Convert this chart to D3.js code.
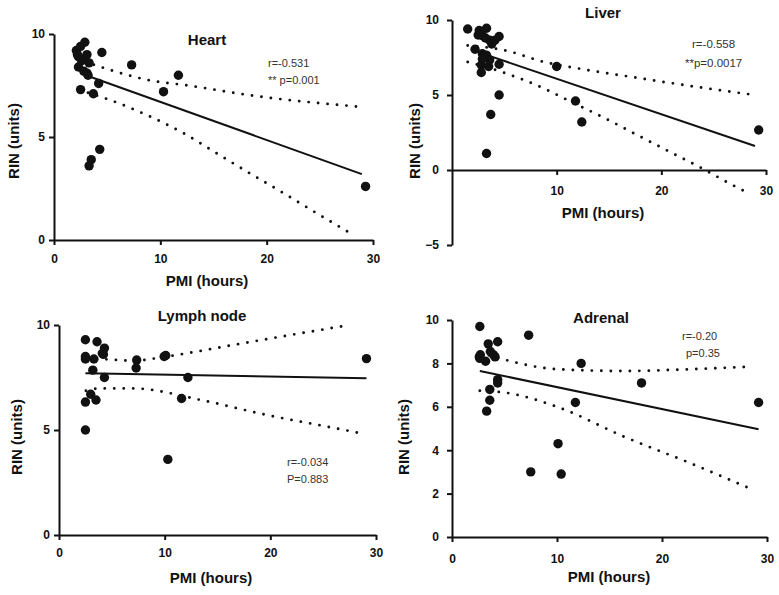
<!DOCTYPE html>
<html>
<head>
<meta charset="utf-8">
<script src="https://cdn.jsdelivr.net/npm/d3@7"></script>
<style>
  body { margin: 0; background: #fff; }
  svg text { font-family: "Liberation Sans", Arial, sans-serif; }
</style>
</head>
<body>
<svg id="vis-rin" width="779" height="595"></svg>
<script>

// ---- data (PMI in hours, RIN in units) ----

const heartPMI = [2.1, 2.5, 2.9, 2.3, 3.1, 3.3, 2.3, 2.8, 3.1, 3.2, 4.5, 7.3, 11.7, 10.3, 4.2, 2.5, 3.7, 4.3, 3.5, 3.3, 29.3, 2.6, 2.2];
const heartRIN = [9.2, 9.4, 9.6, 8.9, 9.0, 8.6, 8.4, 8.2, 8.1, 8.0, 9.1, 8.5, 8.0, 7.2, 7.6, 7.3, 7.1, 4.4, 3.9, 3.6, 2.6, 8.7, 9.0];
const heartFit = [[3.2, 7.96], [28.95, 3.2]];
const heartUpper = [[2.9, 8.66], [5, 8.3], [9, 7.75], [12.6, 7.5], [18.8, 7.0], [28.7, 6.47]];
const heartLower = [[3.2, 7.15], [4.8, 6.88], [9.0, 6.0], [12.2, 5.18], [15.3, 4.21], [18.4, 3.24], [21.6, 2.27], [24.7, 1.3], [28.3, 0.2]];

const liverPMI = [1.5, 2.6, 3.3, 2.9, 3.2, 3.6, 4.1, 4.5, 2.2, 2.9, 3.3, 3.6, 2.8, 2.8, 3.5, 4.5, 4.5, 3.7, 3.3, 10.0, 11.8, 12.4, 29.3, 3.8, 2.5, 2.9];
const liverRIN = [9.4, 9.3, 9.45, 8.95, 8.8, 8.65, 8.65, 8.9, 8.05, 7.75, 7.65, 7.33, 7.0, 6.5, 6.9, 7.05, 5.0, 3.7, 1.1, 6.9, 4.6, 3.2, 2.67, 8.4, 9.0, 7.4];
const liverFit = [[3.0, 7.74], [28.95, 1.6]];
const liverUpper = [[1.5, 8.3], [4.9, 8.0], [9.1, 7.15], [11.65, 6.82], [18, 6.11], [24.35, 5.44], [28.5, 5.04]];
const liverLower = [[1.5, 7.2], [4.9, 6.5], [9.1, 5.33], [10.7, 4.78], [14.8, 3.38], [18, 2.22], [21.2, 1.07], [23.7, 0.18], [26.9, -1.04], [28.5, -1.6]];

const lymphPMI = [2.5, 3.6, 4.3, 4.1, 2.5, 2.5, 3.3, 7.35, 9.95, 3.2, 7.3, 4.3, 12.2, 3.0, 3.5, 2.5, 11.6, 2.5, 10.3, 29.1, 4.2, 10.1];
const lymphRIN = [9.3, 9.2, 8.9, 8.65, 8.5, 8.38, 8.38, 8.33, 8.5, 7.85, 7.95, 7.5, 7.5, 6.7, 6.43, 6.33, 6.5, 5.0, 3.6, 8.4, 8.6, 8.55];
const lymphFit = [[2.5, 7.7], [29.1, 7.46]];
const lymphUpper = [[2.7, 8.3], [3.9, 8.37], [7.0, 8.3], [10.2, 8.5], [16.5, 9.05], [22.8, 9.6], [27.2, 9.97]];
const lymphLower = [[2.55, 6.87], [3.9, 6.98], [7.0, 6.98], [13.4, 6.43], [19.7, 5.71], [26, 5.1], [28.9, 4.81]];

const adrenalPMI = [2.65, 7.3, 3.45, 4.35, 2.7, 2.65, 3.65, 3.95, 4.1, 3.2, 12.3, 4.35, 4.35, 3.6, 3.6, 3.3, 11.75, 18.05, 29.2, 10.1, 7.5, 10.4, 2.6];
const adrenalRIN = [9.7, 9.3, 8.9, 9.0, 8.4, 8.23, 8.55, 8.4, 8.3, 8.1, 8.0, 7.25, 7.1, 6.8, 6.3, 5.8, 6.2, 7.1, 6.2, 4.3, 3.0, 2.9, 8.3];
const adrenalFit = [[2.65, 7.65], [29.2, 4.97]];
const adrenalUpper = [[2.65, 8.5], [5.1, 8.16], [10.0, 7.73], [16.4, 7.65], [22.7, 7.73], [28.4, 7.85]];
const adrenalLower = [[2.65, 6.74], [5.1, 6.65], [10.0, 6.0], [16.4, 4.62], [22.7, 3.4], [28.7, 2.17]];

const xTicksFull = [0, 10, 20, 30];

const rin = {

    panels : [
        {
            title : 'Heart', pmi : heartPMI, rin : heartRIN,
            fit : heartFit, upper : heartUpper, lower : heartLower,
            notes : ['r=-0.531', '** p=0.001'],
            xRange : [54, 373], yDomain : [0, 10], yRange : [240, 34],
            yTicks : [0, 5, 10], xTicks : xTicksFull,
            yPad : 4, xPad : 9,
            titlePos : [207, 45], notePos : [268, 67, 84], noteSize : 11,
            xLabelPos : [207, 286], yLabelPos : [19, 141]
        },
        {
            title : 'Liver', pmi : liverPMI, rin : liverRIN,
            fit : liverFit, upper : liverUpper, lower : liverLower,
            notes : ['r=-0.558', '**p=0.0017'],
            xRange : [452, 766], yDomain : [-5, 10], yRange : [245, 20],
            yTicks : [-5, 0, 5, 10], xTicks : [10, 20, 30],
            yPad : 8, xPad : 11,
            titlePos : [603, 18], notePos : [692, 48, 67], noteAlign : [0, -7], noteSize : 11.5,
            xLabelPos : [603, 218], yLabelPos : [420, 141]
        },
        {
            title : 'Lymph node', pmi : lymphPMI, rin : lymphRIN,
            fit : lymphFit, upper : lymphUpper, lower : lymphLower,
            notes : ['r=-0.034', 'P=0.883'],
            xRange : [59, 376], yDomain : [0, 10], yRange : [535, 325],
            yTicks : [0, 5, 10], xTicks : xTicksFull,
            yPad : 4, xPad : 8,
            titlePos : [202, 321], notePos : [287, 466, 483], noteSize : 11,
            xLabelPos : [211, 583], yLabelPos : [22, 437]
        },
        {
            title : 'Adrenal', pmi : adrenalPMI, rin : adrenalRIN,
            fit : adrenalFit, upper : adrenalUpper, lower : adrenalLower,
            notes : ['r=-0.20', 'p=0.35'],
            xRange : [452, 767], yDomain : [0, 10], yRange : [537, 320],
            yTicks : [0, 2, 4, 6, 8, 10], xTicks : xTicksFull,
            yPad : 8, xPad : 12,
            titlePos : [601, 323], notePos : [682, 340, 357], noteAlign : [0, 4], noteSize : 11,
            xLabelPos : [609, 582], yLabelPos : [409, 437]
        }
    ],

    render : function(p) {

        const svg = d3.select('svg#vis-rin');
        const g = svg.append('g');

        const x = d3.scaleLinear().domain([0, 30]).range(p.xRange);
        const y = d3.scaleLinear().domain(p.yDomain).range(p.yRange);

        const straight = d3.line().x(d => x(d[0])).y(d => y(d[1]));
        const smooth = d3.line().x(d => x(d[0])).y(d => y(d[1])).curve(d3.curveMonotoneX);

        // confidence band, dotted
        [p.upper, p.lower].forEach(band => {
            g.append('path')
                .attr('d', smooth(band))
                .attr('fill', 'none')
                .attr('stroke', '#111')
                .attr('stroke-width', 2.9)
                .attr('stroke-linecap', 'round')
                .attr('stroke-dasharray', '0 9.5');
        });

        // regression line
        g.append('path')
            .attr('d', straight(p.fit))
            .attr('fill', 'none')
            .attr('stroke', '#111')
            .attr('stroke-width', 2);

        g.append('g')
            .selectAll('circle')
            .data(d3.zip(p.pmi, p.rin))
            .join('circle')
            .attr('cx', d => x(d[0]))
            .attr('cy', d => y(d[1]))
            .attr('r', 4.7)
            .attr('fill', '#111');

        // axes
        const xAxis = g.append('g')
            .attr('transform', `translate(0,${y(0)})`)
            .call(d3.axisBottom(x).tickValues(p.xTicks).tickSize(5).tickSizeOuter(0).tickPadding(p.xPad));

        const yAxis = g.append('g')
            .attr('transform', `translate(${x(0)},0)`)
            .call(d3.axisLeft(y).tickValues(p.yTicks).tickSize(5).tickSizeOuter(0).tickPadding(p.yPad));

        [xAxis, yAxis].forEach(a => {
            a.select('.domain').attr('stroke', '#111').attr('stroke-width', 2);
            a.selectAll('.tick line').attr('stroke', '#111').attr('stroke-width', 2);
            a.selectAll('.tick text')
                .attr('font-family', '"Liberation Sans", Arial, sans-serif')
                .attr('font-size', 12)
                .attr('font-weight', 'bold')
                .attr('fill', '#111');
        });

        // texts
        g.append('text')
            .attr('x', p.titlePos[0]).attr('y', p.titlePos[1])
            .attr('text-anchor', 'middle')
            .attr('font-size', 15).attr('font-weight', 'bold').attr('fill', '#111')
            .text(p.title);

        g.append('text')
            .attr('x', p.xLabelPos[0]).attr('y', p.xLabelPos[1])
            .attr('text-anchor', 'middle')
            .attr('font-size', 15).attr('font-weight', 'bold').attr('fill', '#111')
            .text('PMI (hours)');

        g.append('text')
            .attr('transform', `translate(${p.yLabelPos[0]},${p.yLabelPos[1]}) rotate(-90)`)
            .attr('text-anchor', 'middle')
            .attr('font-size', 15).attr('font-weight', 'bold').attr('fill', '#111')
            .text('RIN (units)');

        const shift = p.noteAlign || [0, 0];
        p.notes.forEach((t, i) => {
            g.append('text')
                .attr('x', p.notePos[0] + shift[i]).attr('y', p.notePos[1 + i])
                .attr('font-size', p.noteSize).attr('fill', '#333')
                .text(t);
        });

    },

    init : function() {

        rin.panels.forEach(p => rin.render(p));

    }

}

rin.init();
</script>
</body>
</html>
